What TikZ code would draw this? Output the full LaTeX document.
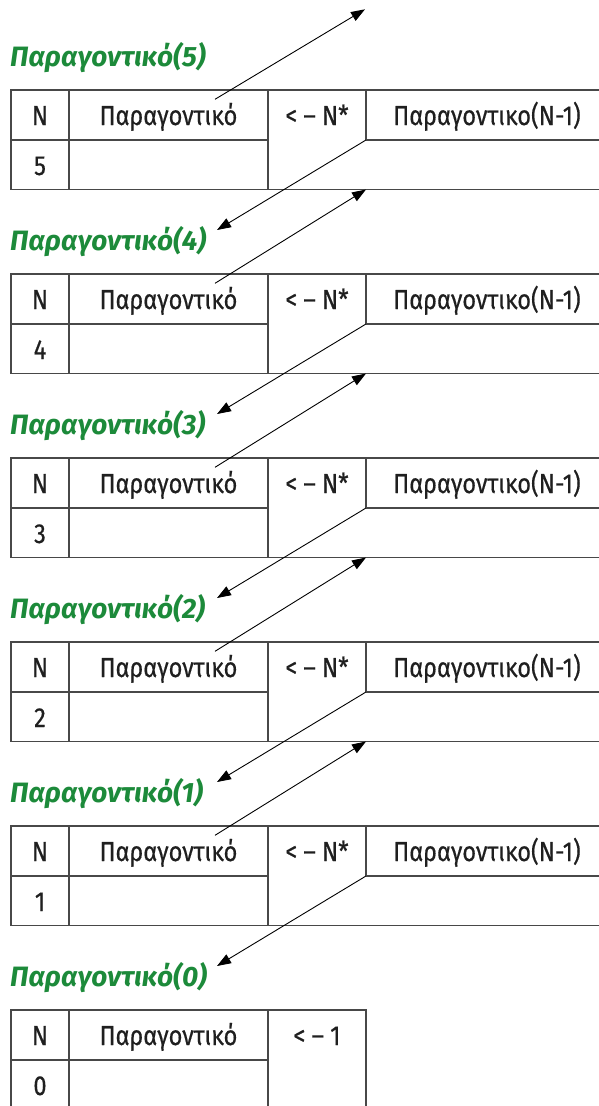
\documentclass[tikz,border=0pt]{standalone}
\usepackage{fontspec}
\setmainfont{Fira Sans}
\newfontfamily\cellfont[FakeStretch=0.86,FakeBold=0.5]{Fira Sans}
\usetikzlibrary{arrows.meta}
\definecolor{titlegreen}{RGB}{28,138,58}
\definecolor{rulegray}{RGB}{72,72,72}
\begin{document}
\begin{tikzpicture}[x=1pt,y=-1pt,
  grid/.style={draw=rulegray,line width=1.3pt},
  arr/.style={draw=black,line width=0.9pt,-{Triangle[length=14pt,width=10pt]}},
  cell/.style={font=\cellfont\fontsize{27.5}{32}\selectfont, text=black!88, inner sep=0pt, anchor=base},
  ttl/.style={font=\fontsize{28}{32}\selectfont\bfseries\itshape, text=titlegreen, inner sep=0pt, anchor=base west}]
\useasboundingbox (0,0) rectangle (599,1106);
\clip (0,0) rectangle (599,1106);
\coordinate (top6) at (365,9.3);
\foreach \k in {0,...,4} {
  \pgfmathsetmacro{\T}{90+184*\k}
  \pgfmathtruncatemacro{\n}{5-\k}
  \node[ttl] (t\n) at (10,\T-23.5) {Παραγοντικό(\n)};
  \draw[grid] (11,\T) rectangle (640,\T+99.5);
  \draw[grid] (69,\T) -- (69,\T+99.5);
  \draw[grid] (268,\T) -- (268,\T+99.5);
  \draw[grid] (366,\T) -- (366,\T+50);
  \draw[grid] (11,\T+50) -- (268,\T+50);
  \draw[grid] (366,\T+50) -- (640,\T+50);
  \node[cell] (hn\n) at (40,\T+35) {N};
  \node[cell] (hp\n) at (168.5,\T+35) {Παραγοντικό};
  \node[cell] (ha\n) at (317,\T+35) {< – N*};
  \node[cell] (hr\n) at (487,\T+35) {Παραγοντικο(N-1)};
  \node[cell] (v\n) at (40,\T+85) {\n};
  \coordinate (up\n) at (215,\T+9.3);
  \coordinate (bl\n) at (366,\T+99.5);
  \coordinate (mid\n) at (366,\T+50);
  \coordinate (tip\n) at (217,\T+140);
}
% last block
\node[ttl] (t0) at (10,1010-23.5) {Παραγοντικό(0)};
\draw[grid] (11,1120) -- (11,1010) -- (366,1010) -- (366,1120);
\draw[grid] (69,1010) -- (69,1120);
\draw[grid] (268,1010) -- (268,1120);
\draw[grid] (11,1060) -- (268,1060);
\node[cell] (hn0) at (40,1045) {N};
\node[cell] (hp0) at (168.5,1045) {Παραγοντικό};
\node[cell] (ha0) at (317,1045) {< – 1};
\node[cell] (v0) at (40,1095) {0};
% arrows
\draw[arr] (up5) -- (top6);
\draw[arr] (up4) -- (bl5);
\draw[arr] (up3) -- (bl4);
\draw[arr] (up2) -- (bl3);
\draw[arr] (up1) -- (bl2);
\foreach \n in {5,...,1} {
  \draw[arr] (mid\n) -- (tip\n);
}
\end{tikzpicture}
\end{document}
